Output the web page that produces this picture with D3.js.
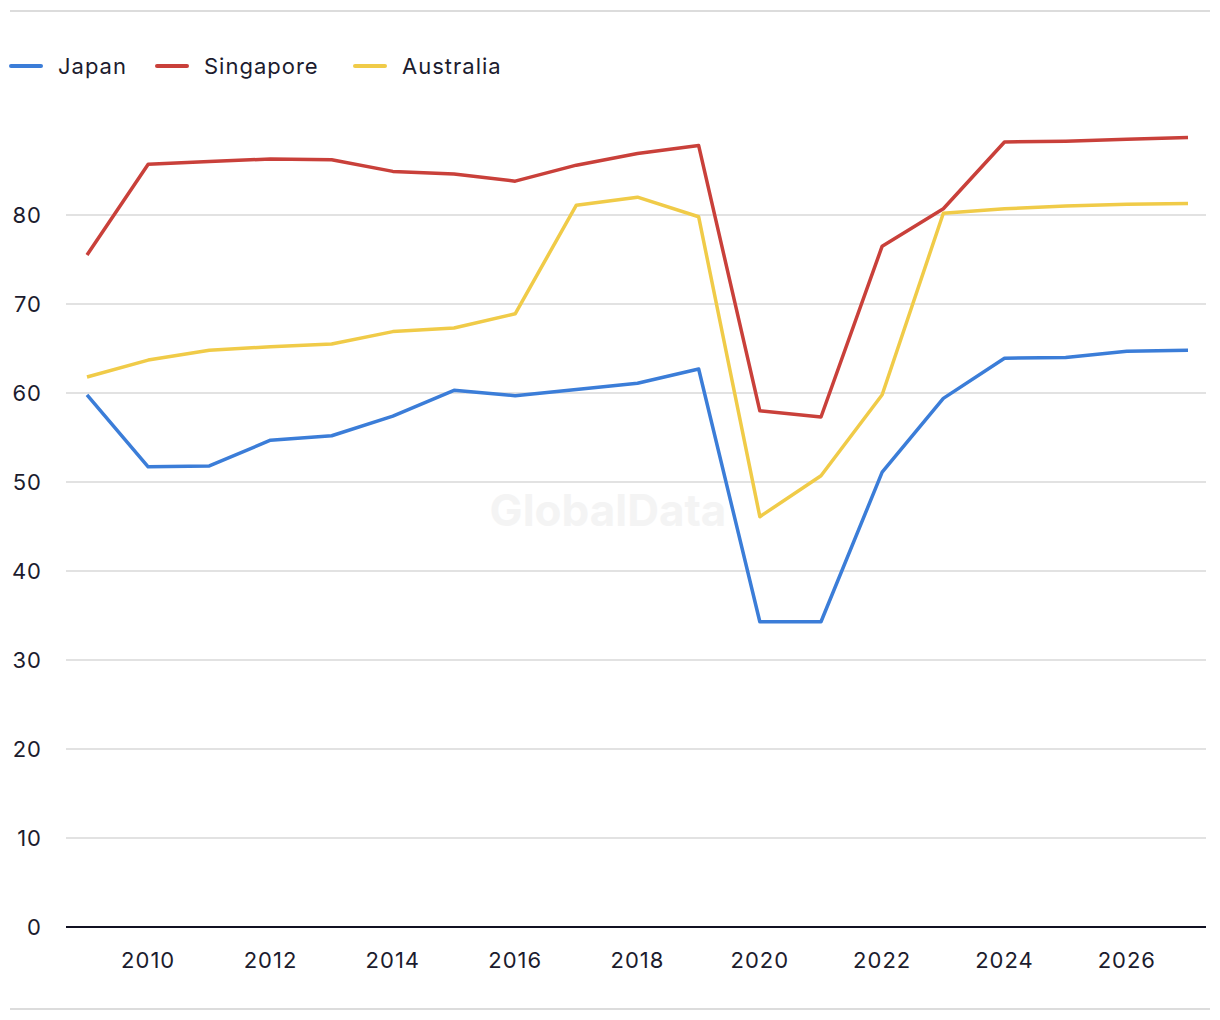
<!DOCTYPE html>
<html>
<head>
<meta charset="utf-8">
<script src="https://cdn.jsdelivr.net/npm/d3@7"></script>
<style>
  body { margin: 0; background: #fff; }
  text { font-family: "Inter", "Roboto", sans-serif; fill: #1c1c2e; }
</style>
</head>
<body>
<div id="chart"></div>
<script>
const years = d3.range(2009, 2028);
const japan = [59.8, 51.7, 51.8, 54.7, 55.2, 57.4, 60.3, 59.7, 60.4, 61.1, 62.7, 34.3, 34.3, 51.1, 59.4, 63.9, 64.0, 64.7, 64.8];
const singapore = [75.5, 85.7, 86.0, 86.3, 86.2, 84.9, 84.6, 83.8, 85.6, 86.9, 87.8, 58.0, 57.3, 76.5, 80.7, 88.2, 88.3, 88.5, 88.7];
const australia = [61.8, 63.7, 64.8, 65.2, 65.5, 66.9, 67.3, 68.9, 81.1, 82.0, 79.8, 46.1, 50.7, 59.8, 80.2, 80.7, 81.0, 81.2, 81.3];
const seriesNames = ["Japan", "Singapore", "Australia"];
const seriesColors = ["#3b7dd8", "#c9403a", "#f0cb48"];
const yTicks = [0, 10, 20, 30, 40, 50, 60, 70, 80];
const xTicks = [2010, 2012, 2014, 2016, 2018, 2020, 2022, 2024, 2026];

const width = 1220, height = 1020;
const svg = d3.select("#chart").append("svg")
  .attr("width", width)
  .attr("height", height);

const x = d3.scaleLinear().domain([2009, 2027]).range([87, 1188]);
const y = d3.scaleLinear().domain([0, 80]).range([927, 215]);

// frame lines top and bottom
svg.append("line").attr("x1", 10).attr("x2", 1210).attr("y1", 11).attr("y2", 11)
  .attr("stroke", "#dcdcdc").attr("stroke-width", 2);
svg.append("line").attr("x1", 10).attr("x2", 1210).attr("y1", 1009).attr("y2", 1009)
  .attr("stroke", "#dcdcdc").attr("stroke-width", 2);

// watermark
svg.append("text")
  .attr("x", 608).attr("y", 526)
  .attr("text-anchor", "middle")
  .style("font-size", "44px").style("font-weight", "bold")
  .style("fill", "#f4f4f4")
  .text("GlobalData");

// grid
svg.append("g").selectAll("line")
  .data(yTicks.filter(d => d > 0))
  .enter().append("line")
  .attr("x1", 66).attr("x2", 1206)
  .attr("y1", d => y(d)).attr("y2", d => y(d))
  .attr("stroke", "#d9d9d9").attr("stroke-width", 1.5);

// y labels
svg.append("g").selectAll("text")
  .data(yTicks)
  .enter().append("text")
  .attr("x", 42).attr("y", d => y(d) + 8)
  .attr("text-anchor", "end")
  .style("font-size", "22px")
  .style("letter-spacing", "1px")
  .text(d => d);

// baseline
svg.append("line").attr("x1", 66).attr("x2", 1206).attr("y1", y(0)).attr("y2", y(0))
  .attr("stroke", "#111122").attr("stroke-width", 2);

// x labels
svg.append("g").selectAll("text")
  .data(xTicks)
  .enter().append("text")
  .attr("x", d => x(d)).attr("y", 968)
  .attr("text-anchor", "middle")
  .style("font-size", "22px")
  .style("letter-spacing", "1px")
  .text(d => d);

const line = d3.line()
  .x((d, i) => x(years[i]))
  .y(d => y(d));

[japan, singapore, australia].forEach(function(vals, i) {
  svg.append("path")
    .datum(vals)
    .attr("fill", "none")
    .attr("stroke", seriesColors[i])
    .attr("stroke-width", 3.5)
    .attr("stroke-linejoin", "round")
    .attr("d", line);
});

// legend
const legendX = [11, 157, 355];
const legend = svg.append("g").selectAll("g")
  .data(seriesNames)
  .enter().append("g")
  .attr("transform", (d, i) => "translate(" + legendX[i] + ",66)");
legend.append("line")
  .attr("x1", 0).attr("x2", 30).attr("y1", 0).attr("y2", 0)
  .attr("stroke", (d, i) => seriesColors[i])
  .attr("stroke-width", 4).attr("stroke-linecap", "round");
legend.append("text")
  .attr("x", 47).attr("y", 8)
  .style("font-size", "22px")
  .style("letter-spacing", "1px")
  .text(d => d);
</script>
</body>
</html>
